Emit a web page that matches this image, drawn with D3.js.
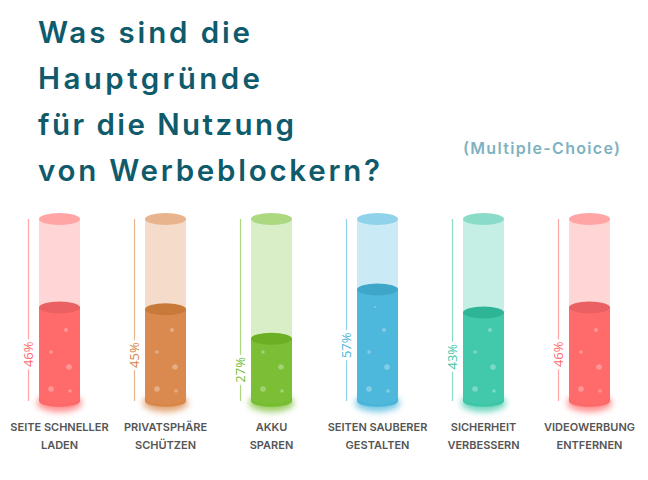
<!DOCTYPE html>
<html>
<head>
<meta charset="utf-8">
<script src="https://cdn.jsdelivr.net/npm/d3@7"></script>
<style>
  html, body { margin: 0; padding: 0; background: #fff; }
  svg { display: block; }
</style>
</head>
<body>
<svg id="chart" width="648" height="480"></svg>
<script>
// ---- data ----
const titleLines = ["Was sind die", "Hauptgründe", "für die Nutzung", "von Werbeblockern?"];
const subtitle = "(Multiple-Choice)";
const categories = ["Seite schneller laden", "Privatsphäre schützen", "Akku sparen", "Seiten sauberer gestalten", "Sicherheit verbessern", "Videowerbung entfernen"];
const labelLine1 = ["SEITE SCHNELLER", "PRIVATSPHÄRE", "AKKU", "SEITEN SAUBERER", "SICHERHEIT", "VIDEOWERBUNG"];
const labelLine2 = ["LADEN", "SCHÜTZEN", "SPAREN", "GESTALTEN", "VERBESSERN", "ENTFERNEN"];
const values = [46, 45, 27, 57, 43, 46];
const liquidColors = ["#ff6b6b", "#da8a4e", "#7abf36", "#4db8dc", "#42c9ab", "#ff6b6b"];
const liquidTopColors = ["#eb6060", "#c87a3a", "#6baf24", "#3ea6c9", "#2eb595", "#eb6060"];
const glassColors = ["#ffd5d5", "#f5dcca", "#d9eec6", "#caeaf5", "#c5efe5", "#ffd5d5"];
const glassTopColors = ["#ffa5a5", "#e8b48d", "#abd880", "#8fd2ea", "#8adcc8", "#ffa5a5"];
const labelColors = ["#ff6b6b", "#d98545", "#75bd35", "#4bb5da", "#3cc7a8", "#ff6b6b"];

// decorative bubbles (offset from cylinder centre / bottom, radius)
const bubbles = [[6.5, -71, 2], [-8.5, -49, 1.8], [9.5, -34, 2.8], [-8.5, -12, 2.8], [10.5, -10, 1.8], [-2.5, -94, 1]];

const svg = d3.select("#chart");
const defs = svg.append("defs");
const glow = defs.append("filter").attr("id", "glow").attr("x", "-50%").attr("y", "-100%").attr("width", "200%").attr("height", "300%");
glow.append("feGaussianBlur").attr("stdDeviation", 3);

// ---- title ----
const titleWidths = [212, 222, 256, 342];
svg.append("g").selectAll("text").data(titleLines).join("text")
  .attr("x", 38)
  .attr("y", (d, i) => 43 + i * 46)
  .attr("textLength", (d, i) => titleWidths[i])
  .attr("lengthAdjust", "spacing")
  .attr("fill", "#0f5b6b")
  .style("font-family", "Inter, 'Open Sans', sans-serif")
  .style("font-weight", 600)
  .style("font-size", "29.5px")
  .text(d => d);

svg.append("text")
  .attr("x", 463).attr("y", 154)
  .attr("textLength", 157)
  .attr("lengthAdjust", "spacing")
  .attr("fill", "#7fb2c0")
  .style("font-family", "Inter, 'Open Sans', sans-serif")
  .style("font-weight", 600)
  .style("font-size", "16px")
  .text(subtitle);

// ---- scales ----
const x = d3.scalePoint().domain(categories).range([59.5, 589.5]);
const y = d3.scaleLinear().domain([0, 100]).range([383, 219]);
const bottomY = 401;
const topY = y(100);
const halfW = 20.5, ry = 6;

const data = categories.map((c, i) => ({ c, i, v: values[i] }));

const g = svg.append("g").selectAll("g").data(data).join("g")
  .attr("transform", d => `translate(${x(d.c)},0)`);

// axis line with gap for the label
g.each(function (d) {
  const sel = d3.select(this);
  const top = y(d.v);
  const mid = (top + bottomY) / 2;
  const lx = -31;
  sel.append("line").attr("x1", lx).attr("x2", lx).attr("y1", topY).attr("y2", mid - 15)
    .attr("stroke", glassTopColors[d.i]).attr("stroke-width", 1.2);
  sel.append("line").attr("x1", lx).attr("x2", lx).attr("y1", mid + 15).attr("y2", bottomY)
    .attr("stroke", glassTopColors[d.i]).attr("stroke-width", 1.2);
  sel.append("text")
    .attr("transform", `translate(${lx + 4.5},${mid}) rotate(-90)`)
    .attr("text-anchor", "middle")
    .attr("fill", labelColors[d.i])
    .style("font-family", "'Open Sans', sans-serif")
    .style("font-size", "13px")
    .text(d.v + "%");
});

// glow under the cylinder
g.append("ellipse")
  .attr("cx", 0).attr("cy", bottomY + 2)
  .attr("rx", halfW + 2).attr("ry", ry + 3)
  .attr("fill", (d) => liquidColors[d.i])
  .attr("opacity", 0.75)
  .attr("filter", "url(#glow)");

// glass body
g.append("rect")
  .attr("x", -halfW).attr("width", halfW * 2)
  .attr("y", topY).attr("height", bottomY - topY)
  .attr("fill", d => glassColors[d.i]);
g.append("ellipse")
  .attr("cx", 0).attr("cy", topY).attr("rx", halfW).attr("ry", ry)
  .attr("fill", d => glassTopColors[d.i]);

// liquid
g.append("ellipse")
  .attr("cx", 0).attr("cy", bottomY).attr("rx", halfW).attr("ry", ry)
  .attr("fill", d => liquidColors[d.i]);
g.append("rect")
  .attr("x", -halfW).attr("width", halfW * 2)
  .attr("y", d => y(d.v)).attr("height", d => bottomY - y(d.v))
  .attr("fill", d => liquidColors[d.i]);
// subtle darker bottom rim
g.append("path")
  .attr("d", `M${-halfW},${bottomY - 2} A${halfW},${ry} 0 0 0 ${halfW},${bottomY - 2}`)
  .attr("fill", "none")
  .attr("stroke", d => liquidTopColors[d.i])
  .attr("stroke-opacity", 0.35)
  .attr("stroke-width", 1);
g.append("ellipse")
  .attr("cx", 0).attr("cy", d => y(d.v)).attr("rx", halfW).attr("ry", ry)
  .attr("fill", d => liquidTopColors[d.i]);

// bubbles
g.each(function (d) {
  const top = y(d.v);
  const sel = d3.select(this);
  bubbles.filter(b => bottomY + b[1] > top + 8).forEach(b => {
    sel.append("circle").attr("cx", b[0]).attr("cy", bottomY + b[1]).attr("r", b[2])
      .attr("fill", "#fff").attr("opacity", 0.3);
  });
});

// category labels
const lab = g.append("text")
  .attr("text-anchor", "middle")
  .attr("fill", "#555")
  .style("font-family", "Inter, 'Open Sans', sans-serif")
  .style("font-weight", 600)
  .style("font-size", "11px");
lab.append("tspan").attr("x", 0).attr("y", 431).text(d => labelLine1[d.i]);
lab.append("tspan").attr("x", 0).attr("y", 449).text(d => labelLine2[d.i]);
</script>
</body>
</html>
